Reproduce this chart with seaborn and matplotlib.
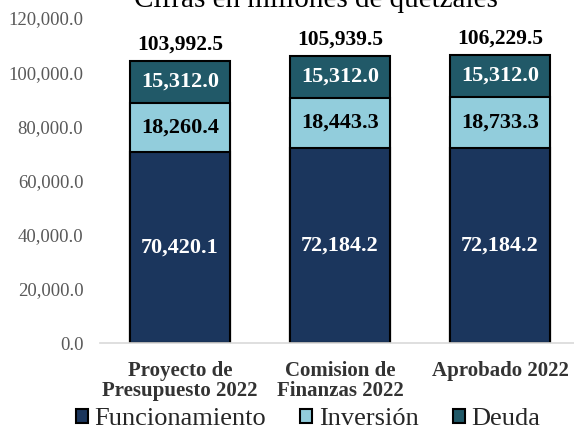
import matplotlib
matplotlib.use("Agg")
import matplotlib.pyplot as plt
import seaborn as sns
import pandas as pd
import numpy as np
from matplotlib.patches import Patch

categories = ["Proyecto de\nPresupuesto 2022", "Comision de\nFinanzas 2022", "Aprobado 2022"]
funcionamiento = [70420.1, 72184.2, 72184.2]
inversion = [18260.4, 18443.3, 18733.3]
deuda = [15312.0, 15312.0, 15312.0]
totales = [103992.5, 105939.5, 106229.5]
series_names = ["Funcionamiento", "Inversión", "Deuda"]
colors = ["#1B365D", "#92CDDC", "#215968"]
text_colors = ["white", "black", "white"]

sns.set_theme(style="white")
plt.rcParams["font.family"] = ["Liberation Serif", "DejaVu Serif"]

fig = plt.figure(figsize=(5.74, 4.32), dpi=100)
ax = fig.add_axes([100/574, (432-343)/432, 480/574, (343-18)/432])

df = pd.DataFrame({"cat": categories, "f": funcionamiento, "i": inversion, "d": deuda})
df["c1"] = df["f"]
df["c2"] = df["f"] + df["i"]
df["c3"] = df["c2"] + df["d"]

for col, color in [("c3", colors[2]), ("c2", colors[1]), ("c1", colors[0])]:
    sns.barplot(data=df, x="cat", y=col, color=color, saturation=1, width=0.625,
                edgecolor="black", linewidth=1.5, ax=ax)

vals = [funcionamiento, inversion, deuda]
for xi in range(len(categories)):
    bottom = 0
    for s in range(3):
        v = vals[s][xi]
        ax.text(xi, bottom + v/2, f"{v:,.1f}", ha="center", va="center",
                fontsize=16, fontweight="bold", color=text_colors[s])
        bottom += v
    ax.annotate(f"{totales[xi]:,.1f}", (xi, totales[xi]), xytext=(0, 12),
                textcoords="offset points", ha="center", va="center",
                fontsize=15.5, fontweight="bold", color="black")

ax.set_xlim(-0.5, 2.5)
ax.set_ylim(0, 120000)
ax.set_yticks(np.arange(0, 120001, 20000))
ax.set_yticklabels([f"{v:,.1f}" for v in np.arange(0, 120001, 20000)], fontsize=13.5, color="#595959")
ax.tick_params(axis="y", length=0, pad=12)
ax.tick_params(axis="x", length=0, pad=13)
for lbl in ax.get_xticklabels():
    lbl.set_fontsize(15)
    lbl.set_fontweight("bold")
    lbl.set_color("#333333")
    lbl.set_linespacing(1.0)
ax.set_xlabel("")
ax.set_ylabel("")
for sp in ["top", "right", "left"]:
    ax.spines[sp].set_visible(False)
ax.spines["bottom"].set_color("#D9D9D9")
ax.spines["bottom"].set_linewidth(1.2)

handles = [Patch(facecolor=c, edgecolor="black", linewidth=1.5, label=n) for c, n in zip(colors, series_names)]
leg = fig.legend(handles=handles, loc="center", bbox_to_anchor=(308/574, 1 - 419/432), ncol=3,
                 frameon=False, fontsize=19, handlelength=0.45, handleheight=0.45,
                 handletextpad=0.25, columnspacing=1.3, borderaxespad=0, borderpad=0)
for t in leg.get_texts():
    t.set_color("#262626")

fig.text(316/574, 1 - 7/432, "Cifras en millones de quetzales", ha="center", va="baseline",
         fontsize=21, color="black")

fig.savefig("out.png", dpi=100)
